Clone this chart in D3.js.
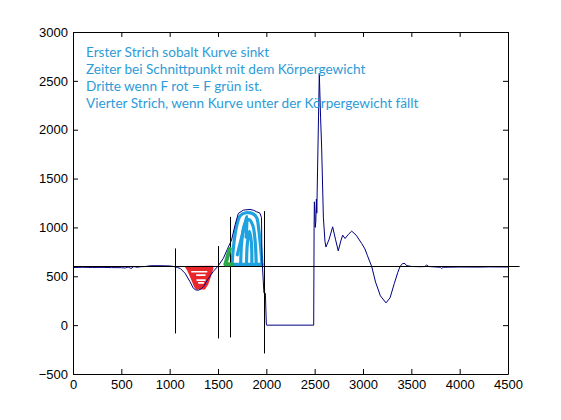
<!DOCTYPE html>
<html>
<head>
<meta charset="utf-8">
<script src="https://cdn.jsdelivr.net/npm/d3@7"></script>
<style>
  html, body { margin: 0; padding: 0; background: #fff; }
  svg { display: block; }
</style>
</head>
<body>
<svg id="chart" width="561" height="420"></svg>
<script>
// ---------- data ----------
const time  = [0, 100, 200, 300, 400, 500, 540, 570, 600, 630, 660, 700, 750, 800, 900, 1000, 1040, 1080, 1110, 1160, 1210, 1245, 1270, 1300, 1330, 1350, 1400, 1450, 1500, 1555, 1607, 1640, 1676, 1710, 1762, 1831, 1870, 1900, 1934, 1950, 1955, 1960, 1975, 1990, 2000, 2003, 2490, 2494, 2497, 2502, 2506, 2512, 2518, 2522, 2548, 2561, 2572, 2590, 2607, 2617, 2650, 2686, 2715, 2744, 2770, 2790, 2814, 2850, 2883, 2930, 2986, 3020, 3044, 3090, 3130, 3180, 3238, 3280, 3324, 3360, 3383, 3410, 3434, 3450, 3469, 3500, 3600, 3640, 3659, 3680, 3800, 3814, 3830, 4000, 4200, 4300, 4500];
const force = [590, 592, 590, 591, 589, 588, 585, 595, 580, 600, 592, 598, 600, 608, 608, 606, 600, 590, 580, 530, 445, 378, 360, 358, 375, 395, 478, 548, 604, 683, 800, 870, 1023, 1143, 1177, 1184, 1175, 1160, 1146, 1100, 650, 600, 330, 327, 10, 0, 0, 1000, 1262, 1150, 1000, 1060, 1290, 1146, 2579, 2129, 1822, 1105, 853, 800, 880, 1006, 880, 760, 860, 921, 887, 930, 962, 920, 836, 780, 716, 600, 440, 300, 228, 280, 427, 540, 600, 631, 630, 610, 607, 600, 598, 600, 615, 600, 592, 580, 592, 595, 594, 596, 595];

const bodyWeight = 600;
const bodyLineEnd = 4620;

const markerTime   = [1055, 1496, 1627, 1978];
const markerTop    = [785, 809, 1108, 1167];
const markerBottom = [-85, -136, -126, -290];

const xTicks = [0, 500, 1000, 1500, 2000, 2500, 3000, 3500, 4000, 4500];
const yTicks = [-500, 0, 500, 1000, 1500, 2000, 2500, 3000];

const notes = [
  "Erster Strich sobalt Kurve sinkt",
  "Zeiter bei Schnittpunkt mit dem Körpergewicht",
  "Dritte wenn F rot = F grün ist.",
  "Vierter Strich, wenn Kurve unter der Körpergewicht fällt"
];

// hand-drawn highlights (data coordinates)
const redX = [1166, 1190, 1225, 1255, 1275, 1360, 1392, 1420, 1445, 1440];
const redY = [597, 560, 480, 405, 372, 372, 420, 500, 581, 600];
const stripeX1 = [1228, 1280, 1283, 1300];
const stripeX2 = [1383, 1366, 1366, 1350];
const stripeY  = [546, 512, 461, 433];
const greenX = [1622, 1576, 1648];
const greenY = [780, 622, 622];
const blueStrokes = [
  { x: [1645, 1660, 1690, 1730, 1790, 1860, 1900, 1925, 1945, 1955], y: [615, 800, 1000, 1120, 1150, 1140, 1100, 950, 750, 620] },
  { x: [1735, 1745, 1775, 1820, 1860, 1885, 1895], y: [630, 850, 1030, 1080, 1020, 850, 630] },
  { x: [1795, 1805, 1825, 1845, 1850], y: [640, 850, 960, 850, 640] },
  { x: [1700, 1760, 1800, 1790], y: [720, 960, 1110, 900] },
  { x: [1650, 1955], y: [622, 622] }
];

// ---------- chart ----------
const W = 561, H = 420;
const margin = { left: 73, top: 32, right: 53, bottom: 46 };
const svg = d3.select("#chart");
svg.append("rect").attr("width", W).attr("height", H).attr("fill", "#fff");

const x = d3.scaleLinear().domain([0, 4500]).range([margin.left, W - margin.right]);
const y = d3.scaleLinear().domain([-500, 3000]).range([H - margin.bottom, margin.top]);

const tickFont = "'Liberation Sans', Arial, sans-serif";
const straight = d3.line().x(d => x(d[0])).y(d => y(d[1]));
const smooth = d3.line().x(d => x(d[0])).y(d => y(d[1])).curve(d3.curveCatmullRom);

// highlights
svg.append("path")
  .attr("d", straight(d3.zip(redX, redY)) + "Z")
  .attr("fill", "#e8262b").attr("stroke", "#e8262b").attr("stroke-width", 1.5).attr("stroke-linejoin", "round");
stripeY.forEach((v, i) => {
  svg.append("line")
    .attr("x1", x(stripeX1[i])).attr("x2", x(stripeX2[i]))
    .attr("y1", y(v)).attr("y2", y(v))
    .attr("stroke", "#ffffff").attr("stroke-width", 1.6).attr("stroke-linecap", "round");
});
blueStrokes.forEach(s => {
  svg.append("path")
    .attr("d", smooth(d3.zip(s.x, s.y)))
    .attr("fill", "none").attr("stroke", "#1fa3e0").attr("stroke-width", 3.2)
    .attr("stroke-linejoin", "round").attr("stroke-linecap", "round");
});

// curve
svg.append("path")
  .attr("d", straight(d3.zip(time, force)))
  .attr("fill", "none").attr("stroke", "#000080").attr("stroke-width", 1);

// body weight line
svg.append("line")
  .attr("x1", x(0)).attr("x2", x(bodyLineEnd))
  .attr("y1", y(bodyWeight)).attr("y2", y(bodyWeight))
  .attr("stroke", "#000").attr("stroke-width", 1);

// marker lines
markerTime.forEach((t, i) => {
  svg.append("line")
    .attr("x1", Math.round(x(t)) + 0.5).attr("x2", Math.round(x(t)) + 0.5)
    .attr("y1", y(markerTop[i])).attr("y2", y(markerBottom[i]))
    .attr("stroke", "#000").attr("stroke-width", 1);
});

// green mark (painted over)
svg.append("path")
  .attr("d", straight(d3.zip(greenX, greenY)))
  .attr("fill", "none").attr("stroke", "#2aa84a").attr("stroke-width", 4)
  .attr("stroke-linejoin", "round").attr("stroke-linecap", "round");

// axes (MATLAB style: box with inward ticks)
function styleAxis(g, labels) {
  g.select(".domain").attr("stroke", "#000");
  g.selectAll(".tick line").attr("stroke", "#000");
  g.selectAll("text").attr("fill", "#000").attr("font-family", tickFont).attr("font-size", 13);
  if (!labels) g.selectAll("text").remove();
}
svg.append("g").attr("transform", `translate(0,${y(-500)})`)
  .call(d3.axisBottom(x).tickValues(xTicks).tickFormat(d3.format("d")).tickSizeInner(-5).tickSizeOuter(0).tickPadding(6))
  .call(g => styleAxis(g, true));
svg.append("g").attr("transform", `translate(0,${y(3000)})`)
  .call(d3.axisTop(x).tickValues(xTicks).tickSizeInner(-5).tickSizeOuter(0))
  .call(g => styleAxis(g, false));
svg.append("g").attr("transform", `translate(${x(0)},0)`)
  .call(d3.axisLeft(y).tickValues(yTicks).tickFormat(d3.format("d")).tickSizeInner(-5).tickSizeOuter(0).tickPadding(5))
  .call(g => styleAxis(g, true));
svg.append("g").attr("transform", `translate(${x(4500)},0)`)
  .call(d3.axisRight(y).tickValues(yTicks).tickSizeInner(-5).tickSizeOuter(0))
  .call(g => styleAxis(g, false));

// annotation text
svg.append("g").selectAll("text").data(notes).join("text")
  .attr("x", 86)
  .attr("y", (d, i) => 56.5 + i * 17.3)
  .attr("font-family", "Lato, 'Open Sans', sans-serif")
  .attr("font-size", 13.6)
  .attr("fill", "#2d9bd8")
  .text(d => d);
</script>
</body>
</html>
